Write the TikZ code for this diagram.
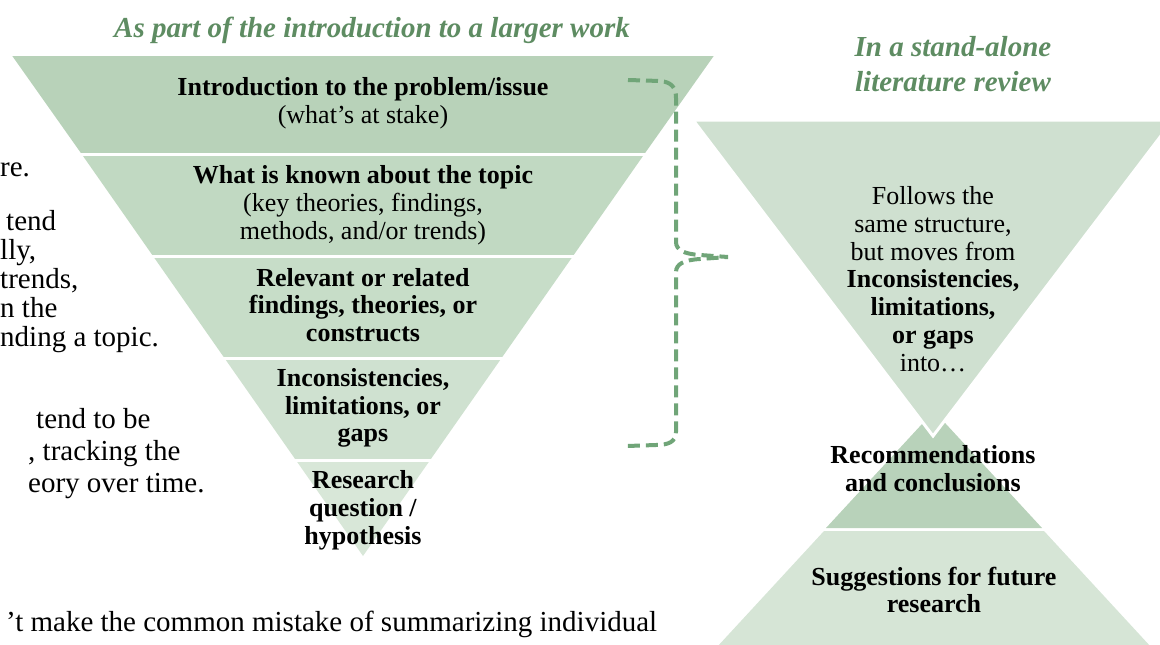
\documentclass[tikz,border=0pt]{standalone}
\usepackage{fontspec}
\setmainfont{Liberation Serif}
\definecolor{bandA}{RGB}{184,210,185}
\definecolor{bandB}{RGB}{193,217,194}
\definecolor{bandC}{RGB}{199,221,200}
\definecolor{bandD}{RGB}{207,225,208}
\definecolor{bandE}{RGB}{216,231,216}
\definecolor{rtri}{RGB}{207,224,208}
\definecolor{recom}{RGB}{184,210,186}
\definecolor{sugg}{RGB}{214,229,214}
\definecolor{titlegreen}{RGB}{94,140,98}
\definecolor{bracegreen}{RGB}{112,165,120}
\tikzset{
  sepline/.style={draw=white, line width=3pt},
  lbl/.style={align=center, font=\fontsize{26}{27.8}\selectfont, inner sep=0pt},
  ttl/.style={align=center, font=\fontsize{29}{35}\selectfont\bfseries\itshape, text=titlegreen, inner sep=0pt},
  bodytext/.style={anchor=base west, font=\fontsize{29}{33}\selectfont, inner sep=0pt},
  bracepath/.style={draw=bracegreen, line width=4pt, dash pattern=on 12pt off 6pt},
}
\begin{document}
\begin{tikzpicture}[x=1pt,y=-1pt]
\useasboundingbox (0,0) rectangle (1160,645);
\clip (0,0) rectangle (1160,645);

% ---------- left inverted triangle ----------
\fill[bandA] (12.3,56) -- (713.7,56) -- (644.4,154) -- (81.6,154) -- cycle;
\fill[bandB] (81.6,154) -- (644.4,154) -- (573,256) -- (153,256) -- cycle;
\fill[bandC] (153,256) -- (573,256) -- (501.6,358) -- (224.4,358) -- cycle;
\fill[bandD] (224.4,358) -- (501.6,358) -- (430.2,460) -- (295.8,460) -- cycle;
\fill[bandE] (295.8,460) -- (430.2,460) -- (363,556) -- cycle;
\draw[sepline] (78,154) -- (648,154);
\draw[sepline] (150,256) -- (576,256);
\draw[sepline] (221,358) -- (505,358);
\draw[sepline] (292,460) -- (434,460);

% ---------- right shapes ----------
\fill[recom] (934,411) -- (1042,528) -- (826,528) -- cycle;
\fill[sugg] (824,531) -- (1044,531) -- (1163,660) -- (705,660) -- cycle;
\filldraw[fill=rtri, draw=white, line width=3pt, line join=miter] (693,120) -- (1173,120) -- (933,436) -- cycle;

% ---------- titles ----------
\node[ttl] (t1) at (372,30) {As part of the introduction to a larger work};
\node[ttl] (t2) at (953,64) {In a stand-alone\\literature review};

% ---------- left triangle labels ----------
\node[lbl] (l1) at (363,103) {\textbf{Introduction to the problem/issue}\\(what’s at stake)};
\node[lbl] (l2) at (363,205) {\textbf{What is known about the topic}\\(key theories, findings,\\methods, and/or trends)};
\node[lbl] (l3) at (363,305) {\textbf{Relevant or related}\\\textbf{findings, theories, or}\\\textbf{constructs}};
\node[lbl] (l4) at (363,408) {\textbf{Inconsistencies,}\\\textbf{limitations, or}\\\textbf{gaps}};
\node[lbl] (l5) at (363,510) {\textbf{Research}\\\textbf{question /}\\\textbf{hypothesis}};

% ---------- right labels ----------
\node[lbl] (r1) at (933,279) {Follows the\\same structure,\\but moves from\\\textbf{Inconsistencies,}\\\textbf{limitations,}\\\textbf{or gaps}\\into…};
\node[lbl] (r2) at (933,469) {\textbf{Recommendations}\\\textbf{and conclusions}};
\node[lbl] (r3) at (934,590) {\textbf{Suggestions for future}\\\textbf{research}};

% ---------- brace ----------
\coordinate (bTop) at (628,80);
\coordinate (bTip) at (728,257);
\coordinate (bBot) at (627,446);
\draw[bracepath] (bTop) -- (660,81) .. controls (672,82) and (676,88) .. (676,98)
   -- (676,242) .. controls (676,250) and (684,254) .. (700,255) -- (bTip)
   -- (700,259) .. controls (684,260) and (676,264) .. (676,272)
   -- (676,432) .. controls (676,442) and (668,445) .. (656,445) -- (bBot);

% ---------- cropped body text on the left ----------
\node[bodytext] (p0) at (0,176) {re.};
\node[bodytext] (p1) at (6,230) {tend};
\node[bodytext] (p2) at (0,259) {lly,};
\node[bodytext] (p3) at (0,288) {trends,};
\node[bodytext] (p4) at (0,317) {n the};
\node[bodytext] (p5) at (0,346) {nding a topic.};
\node[bodytext] (p6) at (36,428) {tend to be};
\node[bodytext] (p7) at (28,460) {, tracking the};
\node[bodytext] (p8) at (28,492) {eory over time.};
\node[bodytext] (p9) at (6,631) {’t make the common mistake of summarizing individual};
\end{tikzpicture}
\end{document}
